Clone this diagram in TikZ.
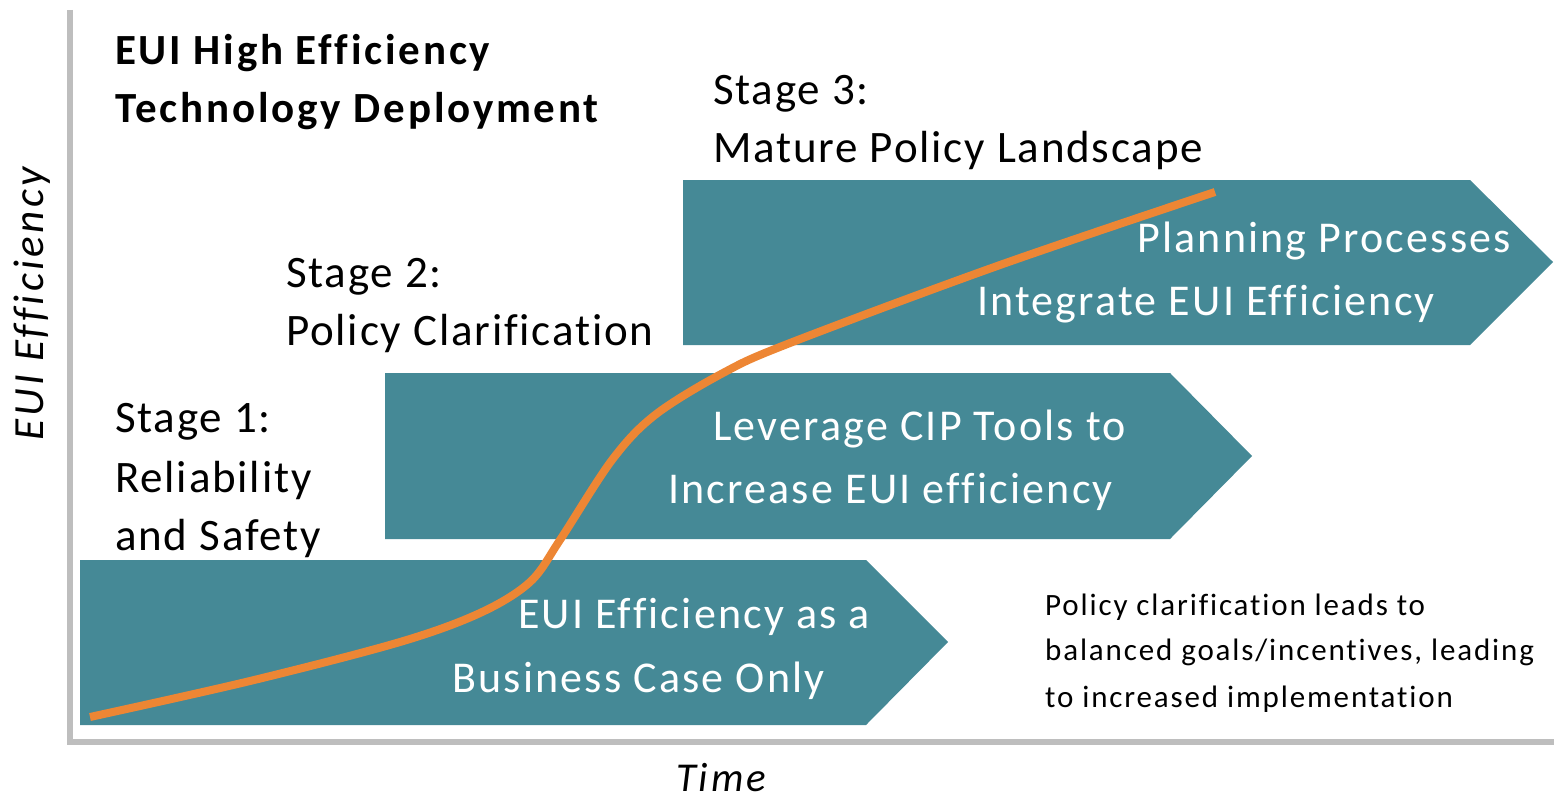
\documentclass[tikz,border=0pt]{standalone}
\usepackage{fontspec}
\setmainfont{Carlito}[Ligatures=NoCommon]
\definecolor{stagefill}{RGB}{69,137,150}
\definecolor{curveorange}{RGB}{237,134,52}
\definecolor{axisgray}{RGB}{190,190,190}
\tikzset{
  stagebox/.style={fill=stagefill},
  stagelabel/.style={anchor=base west,inner sep=0pt,font=\fontsize{45}{59}\selectfont\addfontfeature{LetterSpace=4}},
  boxtext/.style={anchor=base west,inner sep=0pt,text=white,font=\fontsize{44}{59}\selectfont\addfontfeature{LetterSpace=5}},
  notetext/.style={anchor=base west,inner sep=0pt,font=\fontsize{31}{46}\selectfont\addfontfeature{LetterSpace=6}},
  titletext/.style={anchor=base west,inner sep=0pt,font=\fontsize{43}{57}\selectfont\bfseries\addfontfeature{LetterSpace=6.5}},
}
\begin{document}
\begin{tikzpicture}[x=1pt,y=-1pt]
        \useasboundingbox (0,0) rectangle (1554,800);
        \draw[axisgray,line width=6pt] (70,10) -- (70,742) -- (1554,742);
        \node[rotate=90,inner sep=0pt,font=\fontsize{43}{50}\selectfont\itshape\addfontfeature{LetterSpace=8}] (yaxis) at (32,304) {EUI Efficiency};
        \node[anchor=base,inner sep=0pt,font=\fontsize{41}{46}\selectfont\itshape\addfontfeature{LetterSpace=7}] (xaxis) at (721,791) {Time};
        % the three stages
        \fill[stagebox] (80,560) -- (866,560) -- (948,642) -- (866,725) -- (80,725) -- cycle;
        \fill[stagebox] (385,373) -- (1170,373) -- (1252,456) -- (1170,539) -- (385,539) -- cycle;
        \fill[stagebox] (683,180) -- (1470,180) -- (1553,262) -- (1470,345) -- (683,345) -- cycle;
        \draw[curveorange,line width=8pt] plot[smooth,tension=0.55] coordinates {(90,717) (250,681) (400,642) (480,613) (530,582) (560,540) (612,460) (655,415) (723,373) (790,343) (1000,265) (1215,192)};
        % labels
        \node[titletext] (title1) at (115,64) {EUI High Efficiency};
        \node[titletext] (title2) at (115,122) {Technology Deployment};
        \node[stagelabel] (s1a) at (115,432) {Stage 1:};
        \node[stagelabel] (s1b) at (115,492) {Reliability};
        \node[stagelabel] (s1c) at (115,550) {and Safety};
        \node[stagelabel] (s2a) at (286,287) {Stage 2:};
        \node[stagelabel] (s2b) at (286,345) {Policy Clarification};
        \node[stagelabel] (s3a) at (713,104) {Stage 3:};
        \node[stagelabel] (s3b) at (713,162) {Mature Policy Landscape};
        \node[boxtext] (b1a) at (518,628) {EUI Efficiency as a};
        \node[boxtext] (b1b) at (452,692) {Business Case Only};
        \node[boxtext] (b2a) at (713,440) {Leverage CIP Tools to};
        \node[boxtext] (b2b) at (668,503) {Increase EUI efficiency};
        \node[boxtext] (b3a) at (1137,252) {Planning Processes};
        \node[boxtext] (b3b) at (977,315) {Integrate EUI Efficiency};
        \node[notetext] (note1) at (1045,615) {Policy clarification leads to};
        \node[notetext] (note2) at (1045,660) {balanced goals/incentives, leading};
        \node[notetext] (note3) at (1045,707) {to increased implementation};
        \end{tikzpicture}
\end{document}
